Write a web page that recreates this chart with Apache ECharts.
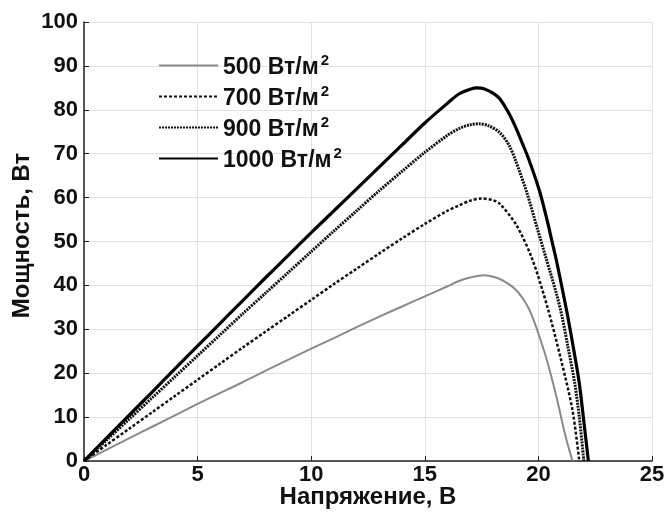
<!DOCTYPE html>
<html>
<head>
<meta charset="utf-8">
<script src="https://cdn.jsdelivr.net/npm/echarts@6/dist/echarts.min.js"></script>
<style>
  html, body { margin: 0; padding: 0; background: #fff; }
  #chart { width: 668px; height: 512px; }
</style>
</head>
<body>
<div id="chart"></div>
<script>
// подписи
var seriesNames = ['500', '700', '900', '1000'];
var xTicks = [0, 5, 10, 15, 20, 25];
var yTicks = [0, 10, 20, 30, 40, 50, 60, 70, 80, 90, 100];

// 500 Вт/м2
var v500 = [0, 1, 2, 3, 4, 5, 6, 7, 8, 9, 10, 11, 12, 13, 14, 15, 16, 16.5, 17, 17.6, 18.2, 18.7, 19.1, 19.5, 19.8, 20.1, 20.4, 20.8, 21.2, 21.5];
var p500 = [0, 2.6, 5.2, 7.8, 10.4, 13, 15.5, 18, 20.6, 23.1, 25.6, 28, 30.5, 32.9, 35.2, 37.5, 39.8, 41, 41.8, 42.3, 41.7, 40.3, 38.5, 35.5, 32, 27.5, 22.5, 14.5, 5.5, 0];
// 700 Вт/м2
var v700 = [0, 1, 2, 3, 4, 5, 6, 7, 8, 9, 10, 11, 12, 13, 14, 15, 16, 16.5, 17, 17.5, 18, 18.3, 19, 19.7, 20.4, 21, 21.5, 21.8];
var p700 = [0, 3.7, 7.4, 11.1, 14.8, 18.5, 22.2, 25.9, 29.5, 33.1, 36.7, 40.3, 43.8, 47.3, 50.7, 54, 57, 58.2, 59.3, 59.8, 59.4, 58.6, 54, 46.4, 35, 23, 11.6, 0];
// 900 Вт/м2
var v900 = [0, 1, 2, 3, 4, 5, 6, 7, 8, 9, 10, 11, 12, 13, 14, 15, 16, 16.5, 17, 17.4, 17.8, 18.3, 18.7, 19, 19.5, 19.95, 20.35, 20.8, 21.05, 21.3, 21.6, 21.8, 22];
var p900 = [0, 4.8, 9.6, 14.4, 19.2, 24, 28.8, 33.6, 38.3, 43, 47.7, 52.4, 57, 61.6, 66, 70.3, 74.2, 75.7, 76.6, 76.8, 76.4, 74.8, 72, 68.4, 61, 53, 46, 38, 32.7, 26, 17.7, 10, 0];
// 1000 Вт/м2
var v1000 = [0, 1, 2, 3, 4, 5, 6, 7, 8, 9, 10, 11, 12, 13, 14, 15, 16, 16.5, 17, 17.3, 17.6, 18, 18.3, 18.7, 19, 19.3, 19.6, 20.05, 20.4, 20.6, 20.8, 21, 21.3, 21.6, 21.8, 22, 22.2];
var p1000 = [0, 5.25, 10.5, 15.7, 21, 26.2, 31.4, 36.6, 41.8, 46.9, 52, 57, 62, 67, 72, 77, 81.5, 83.6, 84.7, 85, 84.8, 83.8, 82.5, 79.2, 76, 72.3, 68.4, 61.5, 54.5, 50, 45.5, 40.5, 32.7, 24, 17.7, 9, 0];

function pairs(xs, ys) {
  var out = [];
  for (var i = 0; i < xs.length; i++) out.push([xs[i], ys[i]]);
  return out;
}

var font = 'Liberation Sans, Arial, sans-serif';
var myChart = echarts.init(document.getElementById('chart'));

var option = {
  backgroundColor: '#fff',
  animation: false,
  grid: { left: 84, right: 16, top: 22, bottom: 51, containLabel: false, outerBoundsMode: 'none' },
  legend: {
    orient: 'vertical',
    left: 153,
    top: 47,
    itemWidth: 59,
    itemHeight: 14,
    itemGap: 4,
    data: seriesNames,
    itemStyle: { opacity: 0 },
    formatter: function (name) { return '{t|' + name + ' Вт/м}{s|2}'; },
    textStyle: {
      rich: {
        t: { fontSize: 23, fontWeight: 'bold', fontFamily: font, color: '#111', lineHeight: 24, padding: [4, 0, 0, 0] },
        s: { fontSize: 15, fontWeight: 'bold', fontFamily: font, color: '#111', verticalAlign: 'top', padding: [0, 0, 8, 2] }
      }
    }
  },
  xAxis: {
    type: 'value',
    min: 0, max: 25, interval: 5,
    name: 'Напряжение, В',
    nameLocation: 'middle',
    nameGap: 24,
    nameMoveOverlap: false,
    nameTextStyle: { fontSize: 24, fontWeight: 'bold', fontFamily: font, color: '#111' },
    axisLine: { show: true, lineStyle: { color: '#222', width: 1.5 } },
    axisTick: { show: true, inside: true, length: 5, lineStyle: { color: '#222' } },
    axisLabel: { fontSize: 22, fontWeight: 'bold', fontFamily: font, color: '#111', margin: 3 },
    splitLine: { show: true, lineStyle: { color: '#e2e2e2', width: 1 } }
  },
  yAxis: {
    type: 'value',
    min: 0, max: 100, interval: 10,
    name: 'Мощность, Вт',
    nameLocation: 'middle',
    nameGap: 50,
    nameMoveOverlap: false,
    nameTextStyle: { fontSize: 24, fontWeight: 'bold', fontFamily: font, color: '#111', padding: [0, 0, 0, 12] },
    axisLine: { show: true, lineStyle: { color: '#222', width: 1.5 } },
    axisTick: { show: true, inside: true, length: 5, lineStyle: { color: '#222' } },
    axisLabel: { fontSize: 22, fontWeight: 'bold', fontFamily: font, color: '#111', margin: 6 },
    splitLine: { show: true, lineStyle: { color: '#e2e2e2', width: 1 } }
  },
  series: [
    {
      name: '500', type: 'line', symbol: 'none', smooth: 0.3,
      data: pairs(v500, p500),
      lineStyle: { color: '#8a8a8a', width: 2 },
      itemStyle: { color: '#8a8a8a' }
    },
    {
      name: '700', type: 'line', symbol: 'none', smooth: 0.3,
      data: pairs(v700, p700),
      lineStyle: { color: '#111', width: 2.5, type: [3, 2] },
      itemStyle: { color: '#111' }
    },
    {
      name: '900', type: 'line', symbol: 'none', smooth: 0.3,
      data: pairs(v900, p900),
      lineStyle: { color: '#111', width: 3, type: [2, 1] },
      itemStyle: { color: '#111' }
    },
    {
      name: '1000', type: 'line', symbol: 'none', smooth: 0.3,
      data: pairs(v1000, p1000),
      lineStyle: { color: '#000', width: 3.2 },
      itemStyle: { color: '#000' }
    }
  ]
};
myChart.setOption(option);
</script>
</body>
</html>
